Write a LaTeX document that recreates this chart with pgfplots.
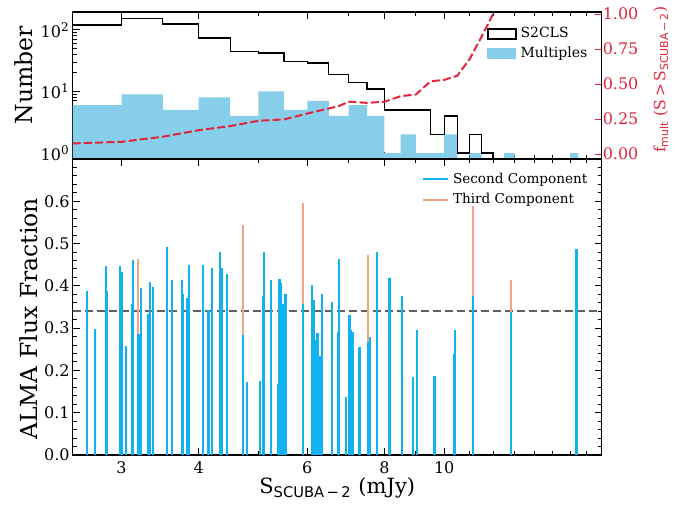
\documentclass[border=0pt]{standalone}
\usepackage{fontspec}
\setmainfont{DejaVu Serif}
\setsansfont{DejaVu Sans}
\usepackage{pgfplots}
\pgfplotsset{compat=1.18}
\definecolor{skyb}{HTML}{87CEEB}
\definecolor{dsb}{HTML}{12B2EE}
\definecolor{salm}{HTML}{F4A383}
\definecolor{mred}{HTML}{E2253A}
\begin{document}
\begin{tikzpicture}
\pgfplotsset{
  every axis/.append style={
    scale only axis, width=264.5pt,
    xmode=log, xmin=2.5, xmax=18,
    tick align=inside,
    major tick length=3.5pt, minor tick length=2pt,
    every tick/.style={black, line width=0.5pt},
    axis line style={line width=0.6pt},
    tick label style={font=\fontsize{8}{9}\selectfont},
    label style={font=\fontsize{11.75}{14}\selectfont},
    xtick={3,4,6,8,10},
    minor xtick={5,7,9,11,12,13,14,15,16,17},
  }
}
% ---------------- top panel -----------------
\begin{axis}[at={(36.35pt,172.5pt)}, anchor=south west, height=73.5pt,
  ymode=log, ymin=0.8, ymax=195,
  xticklabels={}, ytick pos=left,
  ytick={1,10,100}, yticklabels={10\textsuperscript{0},10\textsuperscript{1},10\textsuperscript{2}},
  yticklabel style={xshift=2pt},
  minor ytick={0.9,2,3,4,5,6,7,8,9,20,30,40,50,60,70,80,90},
  ylabel={Number},
  ylabel style={at={(axis description cs:-0.092,0.57)}, anchor=center},
  legend style={at={(0.985,0.94)}, anchor=north east, draw=none, fill=none,
    font=\fontsize{7}{8}\selectfont, inner sep=1pt, row sep=-1pt, cells={anchor=west}},
]
\addplot[fill=skyb, draw=none, const plot, forget plot] coordinates {
 (2.5,0.5) (2.5,6) (3.0,9) (3.5,5) (4.0,8) (4.5,4) (5.0,10) (5.5,5) (6.0,7)
 (6.5,4) (7.0,6) (7.5,4) (8.0,1) (8.5,2) (9.0,1) (9.5,1) (10.0,2) (10.5,0.5)
 (11.0,1) (11.5,0.5) (12.0,0.5) (12.5,1) (13.0,0.5) (16.0,1) (16.5,0.5)} -- cycle;
\addplot[black, line width=0.65pt, const plot,
  legend image code/.code={\draw[black,line width=0.65pt] (0pt,-2.5pt) rectangle (14pt,2.5pt);}]
 coordinates {
 (2.5,0.5) (2.5,120) (3.0,151) (3.5,125) (4.0,74) (4.5,44) (5.0,42) (5.5,31)
 (6.0,29) (6.5,19) (7.0,14) (7.5,11) (8.0,5) (8.5,5) (9.0,5) (9.5,2) (10.0,4)
 (10.5,1) (11.0,2) (11.5,1) (12.0,0.5)};
\addlegendentry{S2CLS}
\addlegendimage{legend image code/.code={\fill[skyb] (0pt,-2.5pt) rectangle (14pt,2.5pt);}}
\addlegendentry{Multiples}
\end{axis}
\begin{axis}[at={(36.35pt,172.5pt)}, anchor=south west, height=73.5pt,
  axis x line=none, axis y line*=right,
  ymin=-0.035, ymax=1.015,
  ytick={0,0.25,0.5,0.75,1}, minor ytick={},
  y tick style={mred},
  yticklabel style={text=mred, xshift=-3pt, /pgf/number format/.cd, fixed, fixed zerofill, precision=2, assume math mode=true},
  ylabel={f\textsubscript{\sffamily mult} (S\,>\,S\textsubscript{\sffamily SCUBA\,−\,2})},
  ylabel style={text=mred, font=\fontsize{7.8}{9.5}\selectfont, at={(axis description cs:1.112,0.54)}, anchor=center},
]
\addplot[mred, line width=1pt, dash pattern=on 4pt off 1.6pt] coordinates {
 (2.5,0.076) (3.0,0.088) (3.5,0.124) (4.0,0.171) (4.5,0.200) (5.0,0.238)
 (5.5,0.248) (6.0,0.290) (6.5,0.326) (6.75,0.343) (7.0,0.374) (7.5,0.366)
 (8.0,0.374) (8.5,0.414) (9.0,0.426) (9.5,0.520) (10.0,0.530) (10.5,0.560)
 (11.0,0.680) (11.5,0.840) (12.0,1.0)};
\end{axis}
% ---------------- bottom panel -----------------
\begin{axis}[at={(36.35pt,24.5pt)}, anchor=south west, height=148pt,
  ymin=0, ymax=0.7,
  ytick={0,0.1,0.2,0.3,0.4,0.5,0.6},
  minor ytick={0.02,0.04,...,0.69},
  yticklabel style={xshift=2pt, /pgf/number format/.cd, fixed, fixed zerofill, precision=1, assume math mode=true},
  xticklabels={3,4,6,8,10},
  ylabel={ALMA Flux Fraction},
  ylabel style={at={(axis description cs:-0.084,0.46)}, anchor=center},
  xlabel={S\textsubscript{\sffamily SCUBA\,−\,2} (mJy)},
  xlabel style={font=\fontsize{10.5}{12}\selectfont, at={(axis description cs:0.5,-0.112)}, anchor=center},
  legend style={at={(0.985,0.975)}, anchor=north east, draw=none, fill=none,
    font=\fontsize{6.8}{8}\selectfont, inner sep=1pt, row sep=-0.5pt, cells={anchor=west}},
]
\addplot[gray!75!black, line width=0.75pt, dash pattern=on 4pt off 2pt, forget plot]
 coordinates {(2.5,0.34) (18,0.34)};
\addplot[ycomb, salm, line width=0.9pt, forget plot] coordinates {
 (3.194,0.464) (4.714,0.545) (5.90,0.597) (7.52,0.472) (11.12,0.59) (12.83,0.414)};
\addplot[ycomb, dsb, line width=1.15pt,
  legend image code/.code={\draw[dsb,line width=1pt] (0pt,0pt) -- (12.5pt,0pt);}]
 coordinates {
 (2.636,0.388) (2.72,0.298) (2.833,0.448) (2.845,0.389) (2.98,0.448) (3.0,0.433)
 (3.048,0.258) (3.12,0.358) (3.135,0.46) (3.194,0.287) (3.228,0.395) (3.31,0.333)
 (3.337,0.409) (3.37,0.397) (3.551,0.493) (3.623,0.414) (3.755,0.413) (3.775,0.381)
 (3.83,0.371) (3.855,0.45) (4.062,0.45) (4.14,0.342) (4.16,0.342) (4.2,0.443)
 (4.33,0.48) (4.365,0.443) (4.446,0.428) (4.714,0.283) (4.79,0.173) (5.035,0.175)
 (5.08,0.377) (5.11,0.48) (5.245,0.413) (5.39,0.169) (5.41,0.417) (5.445,0.406)
 (5.48,0.358) (5.53,0.38) (5.90,0.358) (6.10,0.401) (6.14,0.366) (6.18,0.271)
 (6.23,0.288) (6.30,0.233) (6.34,0.381) (6.575,0.362) (6.72,0.29) (6.745,0.464)
 (6.94,0.137) (7.02,0.33) (7.07,0.296) (7.11,0.291) (7.29,0.255) (7.52,0.267)
 (7.59,0.279) (7.79,0.481) (8.15,0.419) (8.55,0.377) (8.9,0.185) (9.03,0.295)
 (9.64,0.186) (10.38,0.24) (10.42,0.295) (11.12,0.377) (12.83,0.338) (16.38,0.487)};
\addlegendentry{Second Component}
\addlegendimage{legend image code/.code={\draw[salm,line width=1pt] (0pt,0pt) -- (12.5pt,0pt);}}
\addlegendentry{Third Component}
\end{axis}
\pgfresetboundingbox
\path (0,0) rectangle (347pt,252pt);
\end{tikzpicture}
\end{document}
